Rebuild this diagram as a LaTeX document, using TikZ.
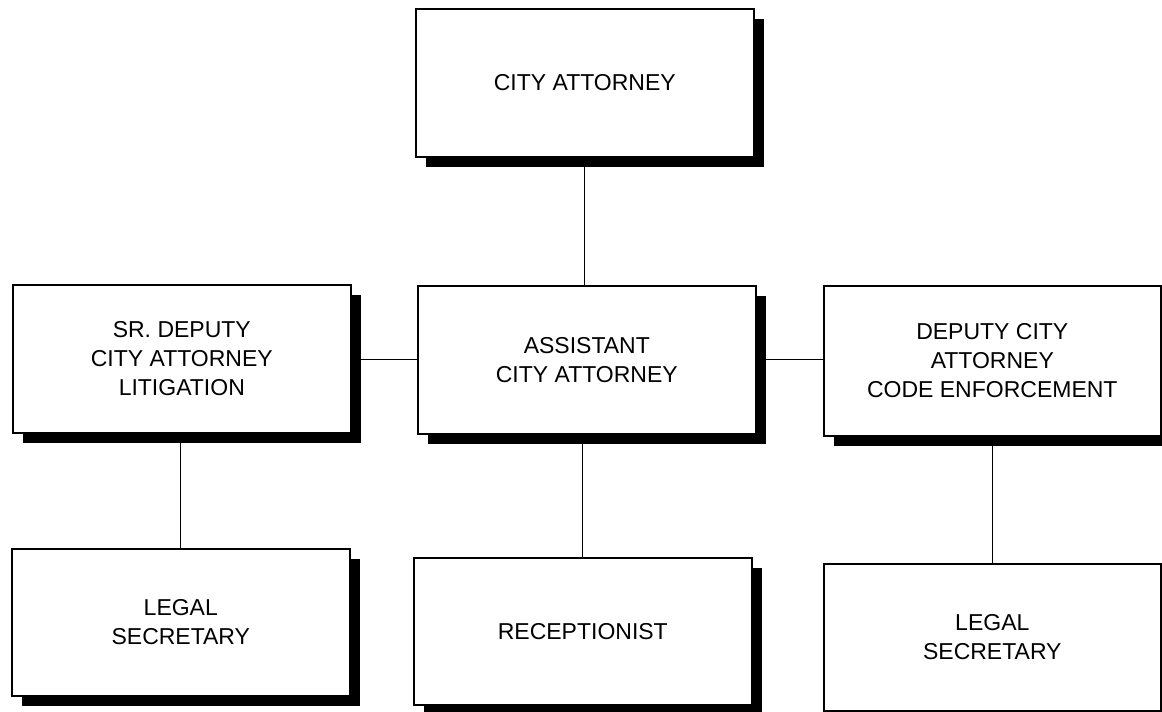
\documentclass[tikz,border=0pt]{standalone}
\usepackage{fontspec}
\setmainfont{Liberation Sans}
\usetikzlibrary{shadows}
\begin{document}
\begin{tikzpicture}[x=1pt,y=-1pt,
  post/.style={draw=black, line width=1.6pt, fill=white,
    minimum width=338pt, minimum height=148pt, inner sep=0pt,
    align=center, anchor=north west,
    font=\fontsize{23pt}{29pt}\selectfont,
    drop shadow={opacity=1, fill=black, shadow xshift=10pt, shadow yshift=-10pt}},
  link/.style={draw=black, line width=1pt}]
\useasboundingbox[fill=white] (0,0) rectangle (1162,712);

% top of the office
\node[post] (ca) at (415,8) {CITY ATTORNEY};

% middle row
\node[post] (sr) at (12,284) {SR. DEPUTY\\CITY ATTORNEY\\LITIGATION};
\node[post] (asst) at (417,285) {ASSISTANT\\CITY ATTORNEY};
\node[post, minimum width=337pt, minimum height=150pt] (dep) at (823,285) {DEPUTY CITY\\ATTORNEY\\CODE ENFORCEMENT};

% support staff
\node[post, minimum height=147pt] (ls1) at (11,548) {LEGAL\\SECRETARY};
\node[post, minimum height=147pt] (rec) at (413,557) {RECEPTIONIST};
\node[post, minimum width=337pt, minimum height=147pt] (ls2) at (823,563) {LEGAL\\SECRETARY};

% reporting lines
\draw[link] (ca.south) -- (ca.south |- asst.north);
\draw[link] (asst.west) -- (asst.west -| sr.east);
\draw[link] (asst.east) -- (asst.east -| dep.west);
\draw[link] (rec.north) -- (rec.north |- asst.south);
\draw[link] (ls1.north) -- (ls1.north |- sr.south);
\draw[link] (ls2.north) -- (ls2.north |- dep.south);
\end{tikzpicture}
\end{document}
